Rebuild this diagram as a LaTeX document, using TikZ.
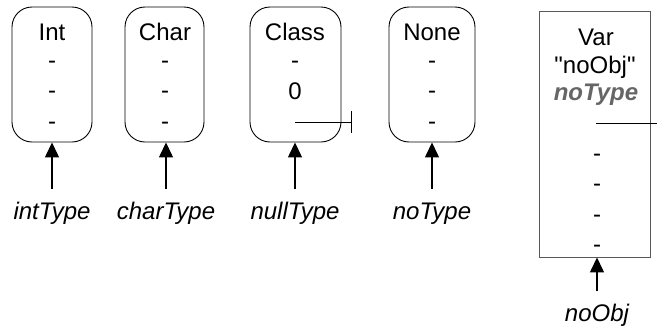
\documentclass[tikz,border=0pt]{standalone}
\usepackage{fontspec}
\setmainfont{Liberation Sans}
\usetikzlibrary{arrows.meta}
\begin{document}
\begin{tikzpicture}[x=1pt,y=-1pt,
  typebox/.style={draw=black, line width=0.9pt, rounded corners=20pt, minimum height=135pt, inner sep=0pt},
  varbox/.style={draw=black!65, line width=0.9pt, minimum width=111pt, minimum height=246pt, inner sep=0pt},
  txt/.style={font=\fontsize{24}{28}\selectfont, inner sep=0pt, anchor=base},
  lbl/.style={font=\fontsize{24}{28}\selectfont\itshape, inner sep=0pt, anchor=base, text height=17pt, text depth=5pt},
  ptr/.style={-{Triangle[length=15pt,width=14pt]}, line width=1.3pt, shorten <=13pt},
  nullptr/.style={-{Bar[width=22pt,line width=1pt]}, line width=1pt},
]
\useasboundingbox (0,0) rectangle (657,327);
% type boxes
\node[typebox, minimum width=80pt] (int) at (52,74.5) {};
\node[typebox, minimum width=79pt] (char) at (164.5,74.5) {};
\node[typebox, minimum width=91pt] (class) at (295.5,74.5) {};
\node[typebox, minimum width=86pt] (none) at (432,74.5) {};
\node[varbox] (var) at (594.5,134) {};
% Int
\node[txt] (intA) at (52,40) {Int};
\node[txt] (intB) at (52,68) {-};
\node[txt] (intC) at (52,98.5) {-};
\node[txt] (intD) at (52,129) {-};
% Char
\node[txt] (charA) at (165,40) {Char};
\node[txt] (charB) at (165,68) {-};
\node[txt] (charC) at (165,98.5) {-};
\node[txt] (charD) at (165,129) {-};
% Class
\node[txt] (classA) at (295,40) {Class};
\node[txt] (classB) at (295,68) {-};
\node[txt] (classC) at (295,99.5) {0};
\coordinate (classP) at (295,122);
\coordinate (classE) at (352,122);
\draw[nullptr] (classP) -- (classE);
% None
\node[txt] (noneA) at (432,40) {None};
\node[txt] (noneB) at (432,68) {-};
\node[txt] (noneC) at (432,98.5) {-};
\node[txt] (noneD) at (432,129) {-};
% Var
\node[txt] (varA) at (596,45) {Var};
\node[txt] (varB) at (595,73) {\textquotedbl noObj\textquotedbl};
\node[txt, font=\fontsize{24}{28}\selectfont\bfseries\itshape, text=black!60] (varC) at (596,100) {noType};
\coordinate (varP) at (596,123);
\coordinate (varE) at (657,123);
\draw[line width=1pt] (varP) -- (varE);
\node[txt] (varD) at (597,161) {-};
\node[txt] (varE2) at (597,191) {-};
\node[txt] (varF) at (597,222) {-};
\node[txt] (varG) at (597,252) {-};
% labels
\node[lbl] (lint) at (52,219) {intType};
\node[lbl] (lchar) at (166,219) {charType};
\node[lbl] (lnull) at (295,219) {nullType};
\node[lbl] (lno) at (432,219) {noType};
\node[lbl] (lobj) at (597,321) {noObj};
% arrows
\draw[ptr] (lint.north) -- (lint.north |- int.south);
\draw[ptr] (lchar.north) -- (lchar.north |- char.south);
\draw[ptr] (lnull.north) -- (lnull.north |- class.south);
\draw[ptr] (lno.north) -- (lno.north |- none.south);
\draw[ptr] (lobj.north) -- (lobj.north |- var.south);
\end{tikzpicture}
\end{document}
